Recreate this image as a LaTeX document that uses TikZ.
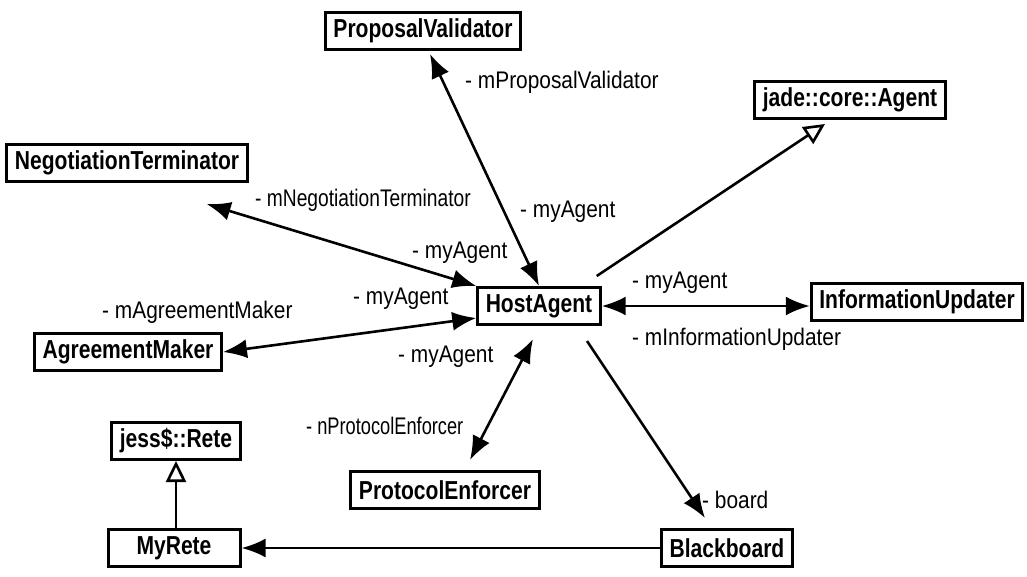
\documentclass[tikz,border=0pt]{standalone}
\usepackage{fontspec}
\usepackage{graphicx}
\setmainfont{Liberation Sans}
\usetikzlibrary{arrows.meta}

\newcommand{\clsfont}{\fontsize{26}{29}\selectfont\bfseries}
\newcommand{\lblfont}{\fontsize{24}{27}\selectfont}
% narrow the glyphs a little
\newcommand{\cname}[1]{\scalebox{0.81}[1]{#1}}
\newcommand{\rname}[1]{\scalebox{0.87}[1]{#1}}

\tikzset{
  cls/.style={draw, line width=3pt, font=\clsfont, inner xsep=8pt, inner ysep=2pt, minimum height=37pt},
  lbl/.style={font=\lblfont, anchor=west, inner sep=0pt},
  assoc/.style={{Latex[length=24pt,width=19pt]}-{Latex[length=24pt,width=19pt]}, line width=2.6pt},
  nav/.style={-{Latex[length=24pt,width=19pt]}, line width=2.6pt},
  inherit/.style={-{Triangle[open,length=21pt,width=20pt,line width=2.6pt]}, line width=2.6pt}
}

\begin{document}
\begin{tikzpicture}[x=1pt,y=-1pt]
\useasboundingbox (0,0) rectangle (1027,576);

%classes
\node[cls] (PV) at (423,31) {\cname{ProposalValidator}};
\node[cls] (JA) at (850,100) {\cname{jade::core::Agent}};
\node[cls] (NT) at (127,163) {\cname{NegotiationTerminator}};
\node[cls] (HA) at (539,306) {\cname{HostAgent}};
\node[cls] (IU) at (917,302) {\cname{InformationUpdater}};
\node[cls] (AM) at (128,352) {\cname{AgreementMaker}};
\node[cls] (JR) at (176,441) {\cname{jess\$::Rete}};
\node[cls] (PE) at (445,490) {\cname{ProtocolEnforcer}};
\node[cls, minimum width=132pt] (MR) at (174,548) {\cname{MyRete}};
\node[cls] (BB) at (727,548) {\cname{Blackboard}};

%associations
\draw[assoc] (HA.north) -- ([xshift=7pt,yshift=-3pt]PV.south);
\draw[assoc] (HA.north west) -- ([xshift=-42pt,yshift=-21pt]NT.south east);
\draw[assoc] ([yshift=-12pt]HA.west) -- (AM.east);
\draw[assoc] (HA.east) -- (HA.east -| IU.west);
\draw[assoc] ([xshift=-6pt,yshift=-13pt]HA.south) -- ([xshift=25pt,yshift=10pt]PE.north);
\draw[nav] ([xshift=48pt,yshift=-15pt]HA.south) -- ([xshift=-22pt,yshift=10pt]BB.north);
\draw[nav] (BB.west) -- (BB.west -| MR.east);

%generalisations
\draw[inherit] ([xshift=-5pt,yshift=10pt]HA.north east) -- ([xshift=-25pt,yshift=-4pt]JA.south);
\draw[inherit] (MR.north -| JR.south) -- (JR.south);

%role names
\node[lbl] (lPV) at (465,82) {\rname{- mProposalValidator}};
\node[lbl] (lPVa) at (520,212) {\rname{- myAgent}};
\node[lbl] (lNT) at (255,200) {\scalebox{0.8}[1]{- mNegotiationTerminator}};
\node[lbl] (lNTa) at (412,253) {\rname{- myAgent}};
\node[lbl] (lAM) at (102,312) {\rname{- mAgreementMaker}};
\node[lbl] (lAMa) at (353,299) {\rname{- myAgent}};
\node[lbl] (lIUa) at (632,283) {\rname{- myAgent}};
\node[lbl] (lIU) at (632,339) {\rname{- mInformationUpdater}};
\node[lbl] (lPEa) at (398,357) {\rname{- myAgent}};
\node[lbl] (lPE) at (306,426) {\scalebox{0.76}[1]{- nProtocolEnforcer}};
\node[lbl] (lBB) at (702,500) {\rname{- board}};

\end{tikzpicture}
\end{document}
